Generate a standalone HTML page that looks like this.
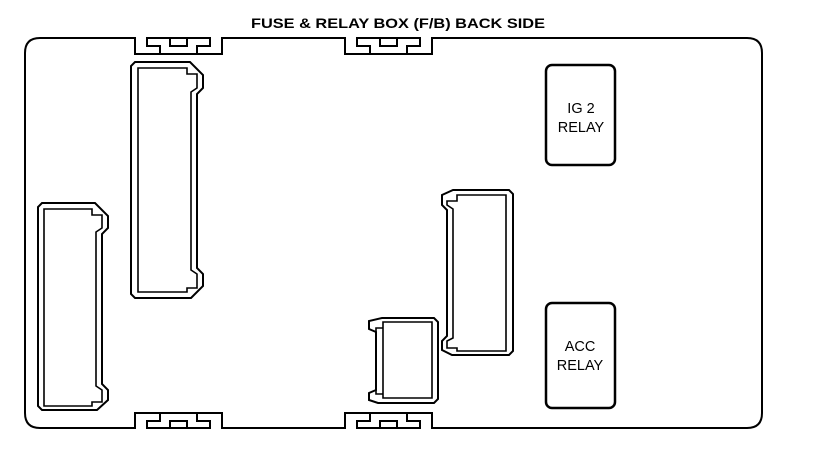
<!DOCTYPE html>
<html><head><meta charset="utf-8"><style>
html,body{margin:0;padding:0;background:#fff;}
svg{display:block;}
text{font-family:"Liberation Sans",Arial,sans-serif;}
</style></head><body>
<svg width="816" height="454" viewBox="0 0 816 454" xmlns="http://www.w3.org/2000/svg">
<g fill="none" stroke="#000" stroke-width="2" stroke-linejoin="miter">
<text x="398" y="28" text-anchor="middle" font-size="14" font-weight="bold" fill="#000" stroke="none" textLength="294" lengthAdjust="spacingAndGlyphs">FUSE &amp; RELAY BOX (F/B) BACK SIDE</text>
<!-- outer box -->
<path d="M40,38 H135 V54 H222 V38 H345 V54 H432 V38 H747 Q762,38 762,53 V413 Q762,428 747,428 H432 V413 H345 V428 H222 V413 H135 V428 H40 Q25,428 25,413 V53 Q25,38 40,38 Z"/>
<!-- top clips -->
<path d="M160,54 V46 H147 V38 H210 V46 H197 V54 M170,38 V46 H187 V38"/>
<path d="M370,54 V46 H357 V38 H420 V46 H407 V54 M380,38 V46 H397 V38"/>
<!-- bottom clips -->
<path d="M160,413 V421 H147 V428 H210 V421 H197 V413 M170,428 V421 H187 V428"/>
<path d="M370,413 V421 H357 V428 H420 V421 H407 V413 M380,428 V421 H397 V428"/>
<!-- connector A -->
<path d="M135,62 H190 L203,75 V88 L197,94 V268 L203,274 V286 L191,298 H135 L131,294 V66 Z"/>
<path d="M138,68 H187 V74 H197 V88 L191,92 V270 L197,274 V288 H187 V292 H138 Z" stroke-width="1.6"/>
<!-- connector left -->
<path d="M42,203 H95 L108,216 V228 L102,234 V384 L108,390 V400 L97,410 H42 L38,406 V207 Z"/>
<path d="M44,209 H92 V215 H102 V228 L96,232 V386 L102,390 V402 H92 V406 H44 Z" stroke-width="1.6"/>
<!-- connector right -->
<path d="M509,190 H453 L442,195 V205 L447,210 V336 L442,341 V350 L452,355 H509 L513,351 V194 Z"/>
<path d="M506,195 H457 V201 H447 V205 L453,209 V338 L447,341 V348 H457 V351 H506 Z" stroke-width="1.6"/>
<!-- connector small -->
<path d="M434,318 H382 L369,321 V329 L376,332 V390 L369,393 V400 L378,403 H434 L438,399 V322 Z"/>
<path d="M432,322 H383 V328 H376 V394 H383 V398 H432 Z M383,328 V394" stroke-width="1.6"/>
<!-- relays -->
<rect x="546" y="65" width="69" height="100" rx="6" stroke-width="2.5"/>
<rect x="546" y="303" width="69" height="105" rx="6" stroke-width="2.5"/>
</g>
<g font-size="14.5" fill="#000" text-anchor="middle">
<text x="581" y="113">IG 2</text>
<text x="581" y="132">RELAY</text>
<text x="580" y="351">ACC</text>
<text x="580" y="370">RELAY</text>
</g>
</svg>
</body></html>
